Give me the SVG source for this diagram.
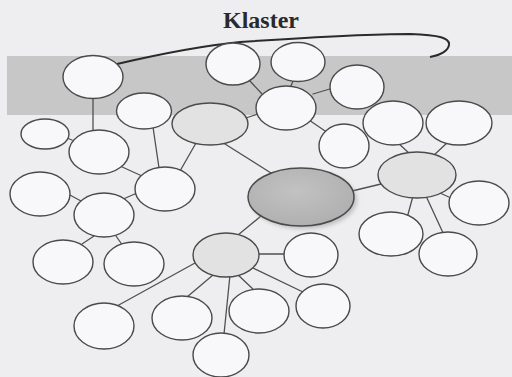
<svg xmlns="http://www.w3.org/2000/svg" width="512" height="377" viewBox="0 0 512 377">
  <defs>
    <style>
      .node { fill: #f8f8fa; stroke: #4a4a4a; stroke-width: 1.4; }
      .hub { fill: #e2e2e2; stroke: #4a4a4a; stroke-width: 1.4; }
      .core { fill: url(#coreGrad); stroke: #4a4a4a; stroke-width: 1.5; }
      .conn line { stroke: #505050; stroke-width: 1.3; stroke-linecap: round; }
      .title { font-family: "Liberation Serif", "Times New Roman", serif; font-weight: bold; font-size: 24px; fill: #2a2a2a; }
    </style>
    <radialGradient id="coreGrad" cx="0.45" cy="0.4" r="0.7">
      <stop offset="0" stop-color="#c2c2c2"/>
      <stop offset="1" stop-color="#adadad"/>
    </radialGradient>
    <filter id="shadow" x="-20%" y="-20%" width="140%" height="140%">
      <feGaussianBlur stdDeviation="2"/>
    </filter>
  </defs>

  <rect x="0" y="0" width="512" height="377" fill="#eeeef1"/>
  <rect x="7" y="56" width="505" height="59" fill="#c7c7c7"/>

  <text class="title" x="261" y="28" text-anchor="middle">Klaster</text>

  <g id="connectors" class="conn">
    <path d="M117,64 C160,54 200,46 240,42 C300,38 360,34 410,34 C440,35 450,38 449,45 C448,51 440,55 430,57" fill="none" stroke="#2a2a2a" stroke-width="2"/>
    <line x1="93" y1="97" x2="93" y2="132"/>
    <line x1="67" y1="138" x2="72" y2="140"/>
    <line x1="120" y1="166" x2="142" y2="176"/>
    <line x1="153" y1="127" x2="159" y2="168"/>
    <line x1="196" y1="143" x2="180" y2="171"/>
    <line x1="246" y1="118" x2="258" y2="114"/>
    <line x1="225" y1="144" x2="271" y2="173"/>
    <line x1="249" y1="80" x2="262" y2="94"/>
    <line x1="294" y1="79" x2="290" y2="88"/>
    <line x1="313" y1="94" x2="333" y2="88"/>
    <line x1="309" y1="120" x2="328" y2="133"/>
    <line x1="398" y1="143" x2="410" y2="154"/>
    <line x1="448" y1="142" x2="433" y2="156"/>
    <line x1="352" y1="191" x2="381" y2="184"/>
    <line x1="440" y1="193" x2="451" y2="198"/>
    <line x1="413" y1="196" x2="407" y2="218"/>
    <line x1="426" y1="196" x2="444" y2="235"/>
    <line x1="68" y1="194" x2="81" y2="201"/>
    <line x1="121" y1="200" x2="137" y2="193"/>
    <line x1="94" y1="236" x2="82" y2="244"/>
    <line x1="116" y1="236" x2="123" y2="246"/>
    <line x1="238" y1="235" x2="261" y2="216"/>
    <line x1="258" y1="254" x2="285" y2="254"/>
    <line x1="195" y1="263" x2="117" y2="306"/>
    <line x1="213" y1="275" x2="187" y2="297"/>
    <line x1="230" y1="275" x2="224" y2="334"/>
    <line x1="236" y1="273" x2="255" y2="291"/>
    <line x1="253" y1="268" x2="303" y2="292"/>
  </g>

  <g id="nodeA"><ellipse class="node" cx="93" cy="77" rx="30" ry="21.5"/></g>
  <g id="nodeB"><ellipse class="node" cx="233" cy="64" rx="27" ry="21"/></g>
  <g id="nodeC"><ellipse class="node" cx="298" cy="62" rx="27" ry="19.5"/></g>
  <g id="nodeD"><ellipse class="node" cx="357" cy="87" rx="27" ry="22"/></g>
  <g id="nodeE"><ellipse class="node" cx="286" cy="108" rx="30" ry="22"/></g>
  <g id="nodeF"><ellipse class="node" cx="344" cy="146" rx="25" ry="22"/></g>
  <g id="nodeG"><ellipse class="node" cx="393" cy="123" rx="30" ry="22"/></g>
  <g id="nodeH"><ellipse class="node" cx="459" cy="123" rx="33" ry="22"/></g>
  <g id="nodeI"><ellipse class="hub" cx="417" cy="175" rx="39" ry="23"/></g>
  <g id="nodeJ"><ellipse class="node" cx="479" cy="203" rx="30" ry="22"/></g>
  <g id="nodeK"><ellipse class="node" cx="391" cy="234" rx="32" ry="22"/></g>
  <g id="nodeL"><ellipse class="node" cx="448" cy="254" rx="29" ry="22"/></g>
  <g id="nodeCenter">
    <ellipse cx="304" cy="200" rx="53" ry="29" fill="#9a9a9a" opacity="0.55" filter="url(#shadow)"/>
    <ellipse class="core" cx="301" cy="197" rx="53" ry="29"/>
  </g>
  <g id="nodeN"><ellipse class="hub" cx="210" cy="124" rx="38" ry="21"/></g>
  <g id="nodeO"><ellipse class="node" cx="144" cy="111" rx="27.5" ry="18"/></g>
  <g id="nodeP"><ellipse class="node" cx="45" cy="134" rx="24" ry="15"/></g>
  <g id="nodeQ"><ellipse class="node" cx="99" cy="152" rx="30" ry="22"/></g>
  <g id="nodeR"><ellipse class="node" cx="165" cy="189" rx="30" ry="22"/></g>
  <g id="nodeS"><ellipse class="node" cx="40" cy="194" rx="30" ry="22"/></g>
  <g id="nodeT"><ellipse class="node" cx="104" cy="215" rx="30" ry="22"/></g>
  <g id="nodeU"><ellipse class="node" cx="63" cy="262" rx="30" ry="22"/></g>
  <g id="nodeV"><ellipse class="node" cx="134" cy="264" rx="30" ry="22"/></g>
  <g id="nodeW"><ellipse class="hub" cx="226" cy="255" rx="33" ry="22"/></g>
  <g id="nodeX"><ellipse class="node" cx="311" cy="255" rx="27" ry="22"/></g>
  <g id="nodeY"><ellipse class="node" cx="323" cy="306" rx="27" ry="22"/></g>
  <g id="nodeZ"><ellipse class="node" cx="259" cy="311" rx="30" ry="22"/></g>
  <g id="nodeAA"><ellipse class="node" cx="104" cy="326" rx="30" ry="23"/></g>
  <g id="nodeAB"><ellipse class="node" cx="182" cy="318" rx="30" ry="22"/></g>
  <g id="nodeAC"><ellipse class="node" cx="221" cy="355" rx="28" ry="22"/></g>
</svg>
